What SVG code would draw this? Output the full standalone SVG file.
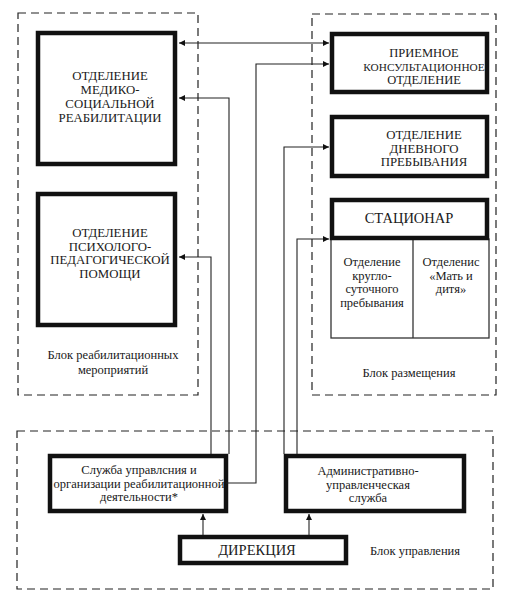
<svg xmlns="http://www.w3.org/2000/svg" width="513" height="606" viewBox="0 0 513 606">
<style>
.blk{fill:none;stroke:#222;stroke-width:1.2;stroke-dasharray:8 5}
.thick{fill:#fff;stroke:#111;stroke-width:4.5}
.thin{fill:#fff;stroke:#333;stroke-width:1.3}
.c{fill:none;stroke:#222;stroke-width:1.1}
</style>
<defs>
<marker id="ah" viewBox="0 0 10 10" refX="10" refY="5" markerWidth="9" markerHeight="6" markerUnits="userSpaceOnUse" orient="auto-start-reverse">
<path d="M0,0 L10,5 L0,10 z" fill="#111"/>
</marker>
</defs>
<rect width="513" height="606" fill="#fff"/>

<g id="block-rehab">
<rect class="blk" x="18" y="13" width="180" height="382"/>
<text font-family="Liberation Serif" font-size="12.5" fill="#1a1a1a" text-anchor="middle" x="113" y="359">Блок реабилитационных</text>
<text font-family="Liberation Serif" font-size="12.5" fill="#1a1a1a" text-anchor="middle" x="113" y="374">мероприятий</text>
</g>
<g id="block-placement">
<rect class="blk" x="312" y="14" width="184" height="381"/>
<text font-family="Liberation Serif" font-size="12.5" fill="#1a1a1a" text-anchor="middle" x="409" y="377">Блок размещения</text>
</g>
<g id="block-management">
<rect class="blk" x="17" y="431" width="476" height="158"/>
<text font-family="Liberation Serif" font-size="12.5" fill="#1a1a1a" text-anchor="middle" x="415" y="555">Блок управления</text>
</g>

<g id="node-med-social">
<rect class="thick" x="38" y="33" width="137" height="131"/>
<text font-family="Liberation Serif" font-size="12.8" fill="#1a1a1a" text-anchor="middle" x="110" y="80">ОТДЕЛЕНИЕ</text>
<text font-family="Liberation Serif" font-size="12.8" fill="#1a1a1a" text-anchor="middle" x="110" y="94">МЕДИКО-</text>
<text font-family="Liberation Serif" font-size="12.8" fill="#1a1a1a" text-anchor="middle" x="110" y="108">СОЦИАЛЬНОЙ</text>
<text font-family="Liberation Serif" font-size="12.8" fill="#1a1a1a" text-anchor="middle" x="110" y="122">РЕАБИЛИТАЦИИ</text>
</g>
<g id="node-psych-ped">
<rect class="thick" x="38" y="194" width="137" height="131"/>
<text font-family="Liberation Serif" font-size="12.8" fill="#1a1a1a" text-anchor="middle" x="110" y="237">ОТДЕЛЕНИЕ</text>
<text font-family="Liberation Serif" font-size="12.8" fill="#1a1a1a" text-anchor="middle" x="110" y="250.5">ПСИХОЛОГО-</text>
<text font-family="Liberation Serif" font-size="12.8" fill="#1a1a1a" text-anchor="middle" x="110" y="264">ПЕДАГОГИЧЕСКОЙ</text>
<text font-family="Liberation Serif" font-size="12.8" fill="#1a1a1a" text-anchor="middle" x="110" y="277.5">ПОМОЩИ</text>
</g>
<g id="node-reception">
<rect class="thick" x="332" y="34" width="155" height="58"/>
<text font-family="Liberation Serif" font-size="12.5" fill="#1a1a1a" text-anchor="middle" x="424" y="57">ПРИЕМНОЕ</text>
<text font-family="Liberation Serif" font-size="11.3" fill="#1a1a1a" text-anchor="middle" x="424" y="70.5">КОНСУЛЬТАЦИОННОЕ</text>
<text font-family="Liberation Serif" font-size="12.5" fill="#1a1a1a" text-anchor="middle" x="424" y="84">ОТДЕЛЕНИЕ</text>
</g>
<g id="node-day">
<rect class="thick" x="332" y="117" width="155" height="59"/>
<text font-family="Liberation Serif" font-size="12.8" fill="#1a1a1a" text-anchor="middle" x="424" y="139">ОТДЕЛЕНИЕ</text>
<text font-family="Liberation Serif" font-size="12.8" fill="#1a1a1a" text-anchor="middle" x="424" y="152.5">ДНЕВНОГО</text>
<text font-family="Liberation Serif" font-size="12.8" fill="#1a1a1a" text-anchor="middle" x="424" y="166">ПРЕБЫВАНИЯ</text>
</g>
<g id="node-stationary">
<rect class="thin" x="331" y="239" width="158" height="99"/>
<line x1="413" y1="239" x2="413" y2="338" stroke="#333" stroke-width="1.3"/>
<rect class="thick" x="332" y="200" width="155" height="38"/>
<text font-family="Liberation Serif" font-size="14.5" fill="#1a1a1a" text-anchor="middle" x="409" y="223">СТАЦИОНАР</text>
<text font-family="Liberation Serif" font-size="12.5" fill="#1a1a1a" text-anchor="middle" x="372" y="266">Отделение</text>
<text font-family="Liberation Serif" font-size="12.5" fill="#1a1a1a" text-anchor="middle" x="372" y="279.5">кругло-</text>
<text font-family="Liberation Serif" font-size="12.5" fill="#1a1a1a" text-anchor="middle" x="372" y="293">суточного</text>
<text font-family="Liberation Serif" font-size="12.5" fill="#1a1a1a" text-anchor="middle" x="372" y="306.5">пребывания</text>
<text font-family="Liberation Serif" font-size="12.5" fill="#1a1a1a" text-anchor="middle" x="451" y="266">Отделенис</text>
<text font-family="Liberation Serif" font-size="12.5" fill="#1a1a1a" text-anchor="middle" x="451" y="279.5">«Мать и</text>
<text font-family="Liberation Serif" font-size="12.5" fill="#1a1a1a" text-anchor="middle" x="451" y="293">дитя»</text>
</g>
<g id="node-service">
<rect class="thick" x="50" y="456" width="176" height="55"/>
<text font-family="Liberation Serif" font-size="12.5" fill="#1a1a1a" text-anchor="middle" x="139" y="474">Служба управлсния и</text>
<text font-family="Liberation Serif" font-size="12.5" fill="#1a1a1a" text-anchor="middle" x="139" y="487.5">организации реабилитационной</text>
<text font-family="Liberation Serif" font-size="12.5" fill="#1a1a1a" text-anchor="middle" x="139" y="501">деятельности*</text>
</g>
<g id="node-admin">
<rect class="thick" x="286" y="456" width="178" height="55"/>
<text font-family="Liberation Serif" font-size="12.5" fill="#1a1a1a" text-anchor="middle" x="368" y="475">Административно-</text>
<text font-family="Liberation Serif" font-size="12.5" fill="#1a1a1a" text-anchor="middle" x="368" y="488.5">управленческая</text>
<text font-family="Liberation Serif" font-size="12.5" fill="#1a1a1a" text-anchor="middle" x="368" y="502">служба</text>
</g>
<g id="node-direction">
<rect class="thick" x="180" y="537" width="166" height="26"/>
<text font-family="Liberation Serif" font-size="14.5" fill="#1a1a1a" text-anchor="middle" x="257" y="555">ДИРЕКЦИЯ</text>
</g>

<g id="connectors">
<line class="c" x1="179" y1="43" x2="329" y2="43" marker-start="url(#ah)" marker-end="url(#ah)"/>
<polyline class="c" points="226,483 256,483 256,64 329,64" marker-end="url(#ah)"/>
<polyline class="c" points="229,454 229,98 179,98" marker-end="url(#ah)"/>
<polyline class="c" points="211,454 211,257 179,257" marker-end="url(#ah)"/>
<polyline class="c" points="284,454 284,147 329,147" marker-end="url(#ah)"/>
<polyline class="c" points="297,454 297,239 329,239" marker-end="url(#ah)"/>
<line class="c" x1="203" y1="535" x2="203" y2="514" marker-end="url(#ah)"/>
<line class="c" x1="309" y1="535" x2="309" y2="514" marker-end="url(#ah)"/>
</g>
</svg>
